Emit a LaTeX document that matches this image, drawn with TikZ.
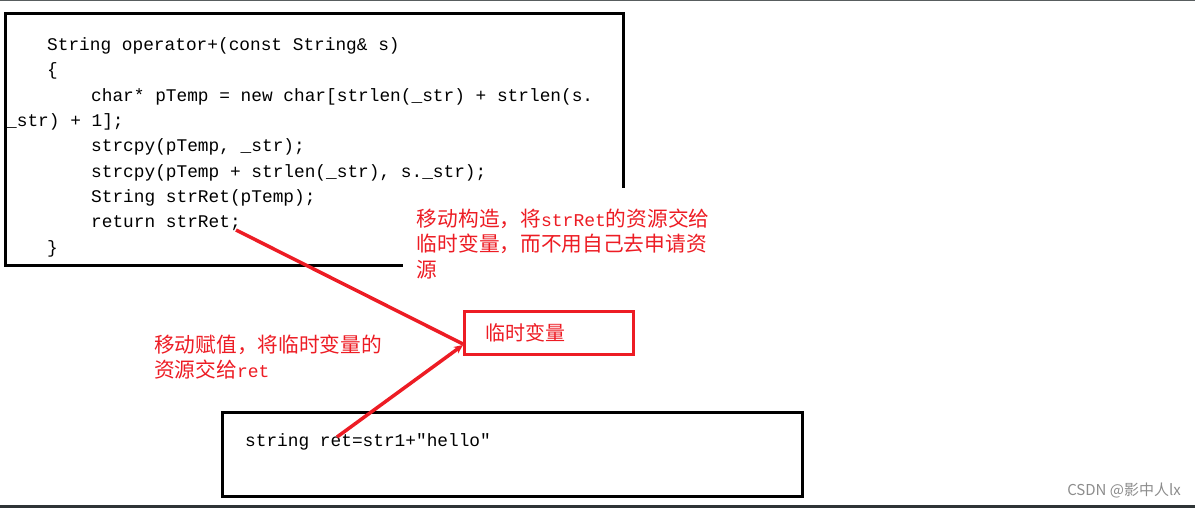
\documentclass[tikz,border=0pt]{standalone}
\usepackage{fontspec}
\setmonofont{Liberation Mono}
\newfontfamily\cjk{Noto Sans CJK SC}
\usetikzlibrary{arrows.meta}

\definecolor{paintred}{HTML}{ED1C24}
\definecolor{bardark}{HTML}{2F3436}
\newcommand{\lat}[1]{{\fontsize{18}{25}\selectfont\ttfamily #1}}

\begin{document}
\begin{tikzpicture}[
    x=1pt, y=-1pt,
    box/.style={draw=black, line width=3pt},
    code/.style={anchor=base west, inner sep=0pt, font=\fontsize{17.8}{25}\selectfont\ttfamily},
    note/.style={text=paintred, align=left, inner sep=0pt, font=\fontsize{20.7}{25.5}\selectfont\cjk},
    link/.style={paintred, line width=3.5pt},
    tip/.style={link, -{Stealth[length=9pt,width=8pt]}}
]
\useasboundingbox (0,0) rectangle (1195,508);

% screen edges
\fill[bardark!80] (0,0) rectangle (1195,1.2);
\fill[bardark] (0,504.5) rectangle (1195,508);

% =========================
% OPERATOR+ CODE
% =========================
\draw[box] (5,14) rectangle (623,265);

\node[code] (sig)   at (47,51)  {String operator+(const String\& s)};
\node[code] (open)  at (47,76)  {\{};
\node[code] (alloc) at (91,102) {char* pTemp = new char[strlen(\_str) + strlen(s.};
\node[code] (wrap)  at (6,127)  {\_str) + 1];};
\node[code] (cpy)   at (91,152) {strcpy(pTemp, \_str);};
\node[code] (cat)   at (91,178) {strcpy(pTemp + strlen(\_str), s.\_str);};
\node[code] (make)  at (91,203) {String strRet(pTemp);};
\node[code] (ret)   at (91,228) {return strRet;};
\node[code] (close) at (47,253) {\}};

\coordinate (retend) at (236,230);

% =========================
% TEMPORARY + CALL
% =========================
\node[draw=paintred, line width=3pt, anchor=north west, minimum width=169, minimum height=43,
      inner xsep=21pt, text width=127pt, align=left, text=paintred,
      font=\fontsize{20}{24}\selectfont\cjk]
      (tmp) at (463,310) {临时变量};

\draw[box] (222,412) rectangle (802,496);
\node[code] (call) at (245,446) {string ret=str1+"hello"};
\coordinate (callret) at (337,437);

% links
\draw[link] (retend) -- ([yshift=-11pt]tmp.west);
\draw[tip] (callret) -- ([yshift=-12pt]tmp.west);

% =========================
% NOTES
% =========================
\node[note, fill=white, anchor=north west, minimum height=111, minimum width=320,
      inner xsep=7pt] (movector) at (403,188)
    {移动构造，将\lat{strRet}的资源交给\\临时变量，而不用自己去申请资\\源};

\node[note, anchor=west, font=\fontsize{20.7}{25}\selectfont\cjk] (moveasg) at (154,357.5)
    {移动赋值，将临时变量的\\资源交给\lat{ret}};

% watermark
\node[anchor=east, inner sep=0pt, text=black!45, font=\fontsize{15}{18}\selectfont\cjk]
    (mark) at (1181,490) {CSDN @影中人lx};
\end{tikzpicture}
\end{document}
